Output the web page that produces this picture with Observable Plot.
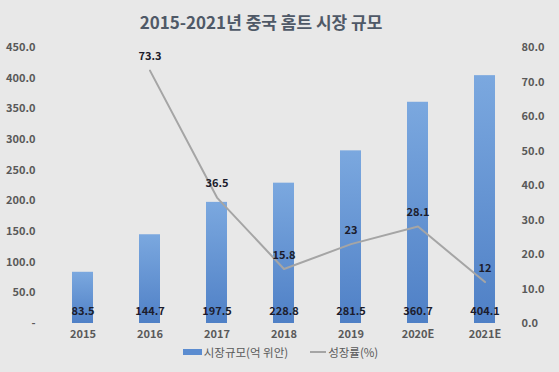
<!DOCTYPE html>
<html>
<head>
<meta charset="utf-8">
<script src="https://cdn.jsdelivr.net/npm/d3@7"></script>
<script src="https://cdn.jsdelivr.net/npm/@observablehq/plot@0.6"></script>
<style>
  html, body { margin: 0; padding: 0; background: #e8e8e8; }
  #wrap { position: relative; width: 559px; height: 372px; background: #e8e8e8; font-family: "Noto Sans CJK KR", "Noto Sans", sans-serif; overflow: hidden; }
  #title { position: absolute; left: 0; width: 522px; top: 8px; text-align: center; font-size: 17px; font-weight: bold; color: #4f5967; line-height: 28px; }
  #chart { position: absolute; left: 0; top: 0; }
  #legend { position: absolute; left: 0; width: 559px; top: 343px; height: 18px; display: flex; justify-content: center; align-items: center; font-size: 11.5px; color: #595959; padding-left: 2px; box-sizing: border-box; }
  .sw-bar { display: inline-block; width: 19px; height: 6px; background: #5b8cd0; margin-right: 2px; }
  .sw-line { display: inline-block; width: 16px; height: 2px; background: #a5a5a5; margin-right: 2px; margin-left: 22px; }
</style>
</head>
<body>
<div id="wrap">
  <div id="title">2015-2021년 중국 홈트 시장 규모</div>
  <div id="chart"></div>
  <div id="legend"><span class="sw-bar"></span><span>시장규모(억 위안)</span><span class="sw-line"></span><span>성장률(%)</span></div>
</div>
<script>
const years = ["2015", "2016", "2017", "2018", "2019", "2020E", "2021E"];
const marketSize = [83.5, 144.7, 197.5, 228.8, 281.5, 360.7, 404.1];
const growthYears = ["2016", "2017", "2018", "2019", "2020E", "2021E"];
const growthRate = [73.3, 36.5, 15.8, 23, 28.1, 12];
const leftTicks = [0, 50, 100, 150, 200, 250, 300, 350, 400, 450];
const rightTicks = [0, 10, 20, 30, 40, 50, 60, 70, 80];

const LEFT_MAX = 450, RIGHT_MAX = 80;
const k = LEFT_MAX / RIGHT_MAX;

const bars = years.map((y, i) => ({year: y, value: marketSize[i]}));
const growth = growthYears.map((y, i) => ({year: y, rate: growthRate[i], ys: growthRate[i] * k}));

const font = '"Noto Sans CJK KR", "Noto Sans", sans-serif';

const plot = Plot.plot({
  width: 559,
  height: 372,
  marginTop: 47,
  marginBottom: 49,
  marginLeft: 49,
  marginRight: 40,
  style: {background: "transparent", fontFamily: font, fontSize: "11px", color: "#595959"},
  x: {type: "band", domain: years, paddingInner: 0.68, paddingOuter: 0.34},
  y: {domain: [0, LEFT_MAX]},
  marks: [
    Plot.axisY({ticks: leftTicks, tickSize: 0, tickPadding: 14, label: null,
      tickFormat: d => d === 0 ? "-" : d.toFixed(1), fontWeight: "bold", fill: "#595959"}),
    Plot.axisY({anchor: "right", ticks: rightTicks.map(t => t * k), tickSize: 0, tickPadding: 2, label: null,
      tickFormat: d => (d / k).toFixed(1), fontWeight: "bold", fill: "#595959", textAnchor: "start"}),
    Plot.axisX({tickSize: 0, tickPadding: 7, label: null, fontWeight: "bold", fill: "#595959"}),
    Plot.barY(bars, {x: "year", y: "value", fill: "url(#barGrad)"}),
    Plot.text(bars, {x: "year", y: 0, dy: -12, text: d => d.value.toFixed(1), fill: "#1c1c2c", fontWeight: "bold", fontSize: 11}),
    Plot.line(growth, {x: "year", y: "ys", stroke: "#a5a5a5", strokeWidth: 2}),
    Plot.text(growth, {x: "year", y: "ys", dy: -14, text: d => String(d.rate), fill: "#1c1c2c", fontWeight: "bold", fontSize: 11})
  ]
});

const ns = "http://www.w3.org/2000/svg";
const defs = document.createElementNS(ns, "defs");
const grad = document.createElementNS(ns, "linearGradient");
grad.setAttribute("id", "barGrad");
grad.setAttribute("x1", "0"); grad.setAttribute("y1", "0");
grad.setAttribute("x2", "0"); grad.setAttribute("y2", "1");
[["0%", "#7ba8df"], ["100%", "#4f80c6"]].forEach(([o, c]) => {
  const s = document.createElementNS(ns, "stop");
  s.setAttribute("offset", o); s.setAttribute("stop-color", c);
  grad.appendChild(s);
});
defs.appendChild(grad);
plot.insertBefore(defs, plot.firstChild);

document.getElementById("chart").appendChild(plot);
</script>
</body>
</html>
